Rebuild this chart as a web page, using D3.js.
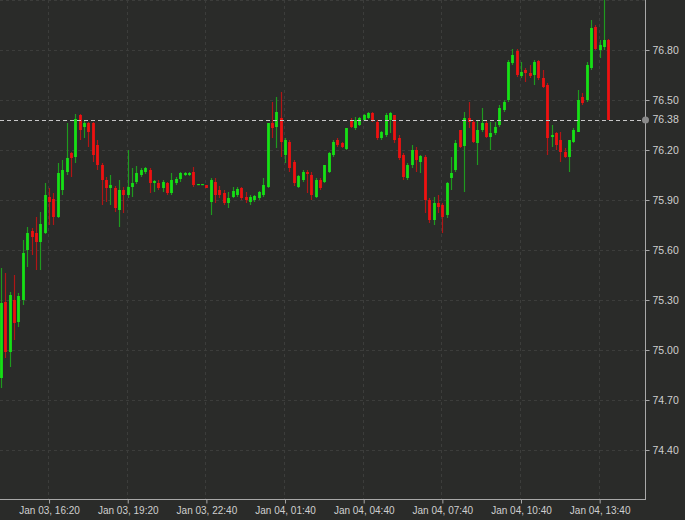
<!DOCTYPE html>
<html><head><meta charset="utf-8">
<script src="https://cdn.jsdelivr.net/npm/d3@7/dist/d3.min.js"></script>
<style>html,body{margin:0;padding:0;background:#2a2b29;}svg{display:block;}</style>
</head><body>
<script>
const openV = [74.832,75.288,74.988,75.30,75.168,75.30,75.60,75.714,75.702,75.648,
75.702,75.918,75.906,75.798,75.96,76.068,76.182,76.158,76.41,76.338,
76.362,76.362,76.23,76.11,76.02,75.972,75.972,75.84,75.96,75.93,
75.978,76.008,76.05,76.068,76.08,76.002,76.002,75.972,76.002,75.942,
76.002,76.026,76.05,76.05,76.068,75.99,75.99,75.99,75.888,76.008,
75.96,75.942,75.882,75.918,75.93,75.972,75.918,75.888,75.90,75.912,
75.93,75.978,76.362,76.338,76.392,76.17,76.248,76.128,75.978,76.02,
76.068,76.05,75.918,76.02,76.008,76.068,76.17,76.26,76.242,76.206,
76.38,76.332,76.35,76.38,76.392,76.422,76.368,76.272,76.29,76.38,
76.41,76.272,76.17,76.032,76.11,76.20,76.128,76.158,75.90,75.78,
75.882,75.87,75.81,76.032,76.08,76.32,76.224,76.392,76.368,76.242,
76.32,76.362,76.278,76.302,76.35,76.44,76.50,76.722,76.794,76.644,
76.68,76.662,76.65,76.734,76.632,76.59,76.278,76.302,76.26,76.188,
76.158,76.248,76.308,76.518,76.50,76.692,76.938,76.80,76.818,76.86];
const highV = [75.492,75.462,75.348,75.45,75.342,75.66,75.738,75.732,75.798,75.828,
76.002,75.972,75.942,76.122,76.14,76.362,76.188,76.416,76.416,76.38,
76.368,76.368,76.26,76.122,76.038,76.05,75.984,76.02,75.978,76.20,
76.092,76.104,76.092,76.098,76.092,76.02,76.02,76.02,76.008,76.062,
76.038,76.068,76.068,76.068,76.098,75.996,75.996,75.99,76.032,76.032,
75.984,75.96,75.948,75.978,75.978,75.978,75.948,75.93,75.93,75.954,
76.032,76.362,76.488,76.518,76.548,76.272,76.26,76.14,76.05,76.08,
76.08,76.068,76.032,76.032,76.11,76.188,76.26,76.272,76.248,76.332,
76.392,76.398,76.398,76.416,76.428,76.428,76.38,76.314,76.422,76.428,
76.41,76.29,76.182,76.122,76.23,76.218,76.17,76.17,75.912,75.918,
75.93,75.882,76.008,76.158,76.26,76.32,76.428,76.488,76.38,76.38,
76.452,76.38,76.368,76.368,76.47,76.50,76.74,76.806,76.806,76.728,
76.692,76.71,76.74,76.74,76.68,76.602,76.35,76.308,76.308,76.212,
76.26,76.332,76.56,76.542,76.728,76.98,76.95,76.86,77.10,76.866];
const lowV = [74.772,74.952,74.898,75.06,75.138,75.27,75.498,75.57,75.48,75.48,
75.696,75.75,75.75,75.792,75.93,76.05,76.038,76.122,76.26,76.272,
76.218,76.128,76.08,75.87,75.888,75.87,75.828,75.738,75.822,75.912,
75.918,75.996,76.038,76.056,75.942,75.948,75.96,75.948,75.93,75.93,
75.99,76.008,76.044,76.044,75.978,75.99,75.99,75.972,75.81,75.882,
75.912,75.87,75.852,75.912,75.918,75.90,75.882,75.87,75.888,75.90,
75.918,75.972,76.272,76.212,76.158,76.122,76.068,75.984,75.972,76.008,
75.942,75.90,75.912,75.96,76.002,76.062,76.158,76.218,76.212,76.20,
76.332,76.32,76.344,76.374,76.386,76.368,76.26,76.26,76.278,76.302,
76.242,76.14,76.02,76.02,76.092,76.068,76.062,75.822,75.762,75.75,
75.822,75.702,75.792,75.96,76.068,76.212,75.948,76.332,76.242,76.11,
76.308,76.272,76.20,76.29,76.338,76.428,76.488,76.71,76.638,76.632,
76.608,76.632,76.59,76.62,76.572,76.17,76.218,76.20,76.128,76.152,
76.068,76.242,76.308,76.47,76.488,76.68,76.80,76.752,76.80,76.38];
const closeV = [75.282,74.988,75.33,75.162,75.324,75.582,75.702,75.678,75.648,75.756,
75.93,75.888,75.798,76.062,76.08,76.152,76.152,76.386,76.32,76.362,
76.308,76.17,76.11,76.02,75.972,75.99,75.852,75.96,75.93,75.978,
76.002,76.062,76.08,76.092,76.002,76.014,75.972,76.008,75.942,76.02,
76.026,76.062,76.062,76.062,75.99,75.996,75.996,75.972,76.02,75.93,
75.93,75.882,75.912,75.954,75.966,75.912,75.90,75.918,75.924,75.948,
75.99,76.362,76.332,76.428,76.248,76.26,76.092,76.002,76.044,76.068,
76.056,75.93,76.02,75.972,76.11,76.182,76.248,76.23,76.218,76.332,
76.338,76.38,76.392,76.41,76.422,76.38,76.272,76.308,76.41,76.422,
76.26,76.152,76.038,76.11,76.20,76.14,76.164,75.90,75.78,75.882,
75.858,75.798,76.002,76.062,76.242,76.218,76.392,76.368,76.248,76.32,
76.362,76.278,76.302,76.338,76.452,76.488,76.728,76.77,76.65,76.668,
76.662,76.644,76.728,76.632,76.578,76.272,76.29,76.23,76.188,76.158,
76.26,76.32,76.50,76.482,76.71,76.932,76.806,76.83,76.86,76.38];
const xTickIndex = [11,29,47,65,83,101,119,137];
const xTickLabels = ["Jan 03, 16:20","Jan 03, 19:20","Jan 03, 22:40","Jan 04, 01:40","Jan 04, 04:40","Jan 04, 07:40","Jan 04, 10:40","Jan 04, 13:40"];
const yTicks = [74.40,74.70,75.00,75.30,75.60,75.90,76.20,76.50,76.80];
const yGrid = [74.40,74.70,75.00,75.30,75.60,75.90,76.20,76.50,76.80,77.10];
const lastPrice = 76.38;

const W = 685, H = 520;
const plotR = 645, plotB = 499;
const candles = openV.map((o,i)=>({i, o, h:highV[i], l:lowV[i], c:closeV[i]}));

const x = d3.scaleLinear().domain([0, candles.length-1]).range([1, 608.4]);
const y = d3.scaleLinear().domain([74.106, 77.10]).range([plotB, 0]);

const svg = d3.select("body").append("svg").attr("width",W).attr("height",H);
svg.append("rect").attr("width",W).attr("height",H).attr("fill","#2a2b29");

const grid = svg.append("g");
grid.selectAll("line.h").data(yGrid).join("line")
  .attr("x1",0).attr("x2",plotR)
  .attr("y1",d=>Math.round(y(d))+0.5).attr("y2",d=>Math.round(y(d))+0.5)
  .attr("stroke","#3c3d3b").attr("stroke-dasharray","3,3");
grid.selectAll("line.v").data(xTickIndex).join("line")
  .attr("x1",d=>Math.round(x(d))-0.5).attr("x2",d=>Math.round(x(d))-0.5)
  .attr("y1",0).attr("y2",plotB)
  .attr("stroke","#3c3d3b").attr("stroke-dasharray","3,3");

const clip = svg.append("clipPath").attr("id","pc").append("rect")
  .attr("x",0).attr("y",0).attr("width",plotR).attr("height",plotB);

const cg = svg.append("g").attr("clip-path","url(#pc)");
const up = d=>d.c>=d.o;
cg.selectAll("line.wick").data(candles).join("line")
  .attr("x1",d=>Math.round(x(d.i))+0.5).attr("x2",d=>Math.round(x(d.i))+0.5)
  .attr("y1",d=>y(d.h)).attr("y2",d=>y(d.l))
  .attr("stroke",d=>up(d)?"#1f9a1f":"#b01616").attr("stroke-width",1.2);
const bw = 2.8;
cg.selectAll("rect.body").data(candles).join("rect")
  .attr("x",d=>Math.round(x(d.i))+0.5-bw/2)
  .attr("width",bw)
  .attr("y",d=>y(Math.max(d.o,d.c)))
  .attr("height",d=>Math.max(1.2, Math.abs(y(d.o)-y(d.c))))
  .attr("fill",d=>up(d)?"#16e016":"#ee1111");

// last price line
svg.append("line").attr("x1",0).attr("x2",plotR)
  .attr("y1",Math.round(y(lastPrice))+0.5).attr("y2",Math.round(y(lastPrice))+0.5)
  .attr("stroke","#c8c8c8").attr("stroke-dasharray","4,3").attr("stroke-width",1);

// axes
const font = "'Liberation Sans', Arial, sans-serif";
const yAxis = d3.axisRight(y).tickValues(yTicks).tickFormat(d3.format(".2f")).tickSize(4).tickPadding(3);
const ya = svg.append("g").attr("transform",`translate(${plotR+0.5},0)`).call(yAxis);
ya.select(".domain").attr("d",`M0,0V${plotB+0.5}`).attr("stroke","#a8a8a8");
ya.selectAll(".tick line").attr("stroke","#a8a8a8");
ya.selectAll("text").attr("fill","#cfcfcf").style("font-family",font).style("font-size","10.5px");

const xAxis = d3.axisBottom(x).tickValues(xTickIndex).tickFormat((d,i)=>xTickLabels[i]).tickSize(4).tickPadding(3);
const xa = svg.append("g").attr("transform",`translate(0,${plotB+0.5})`).call(xAxis);
xa.select(".domain").attr("d",`M0,0H${plotR+1}`).attr("stroke","#a8a8a8");
xa.selectAll(".tick line").attr("stroke","#a8a8a8");
xa.selectAll("text").attr("fill","#cfcfcf").style("font-family",font).style("font-size","10px");

// last price marker and label
svg.append("circle").attr("cx",plotR+0.5).attr("cy",y(lastPrice)).attr("r",3.5).attr("fill","#8a8a8a");
svg.append("text").attr("x",plotR+7.5).attr("y",y(lastPrice)).attr("dy","0.32em")
  .attr("fill","#cfcfcf").style("font-family",font).style("font-size","10.5px")
  .text(d3.format(".2f")(lastPrice));
</script>
</body></html>
